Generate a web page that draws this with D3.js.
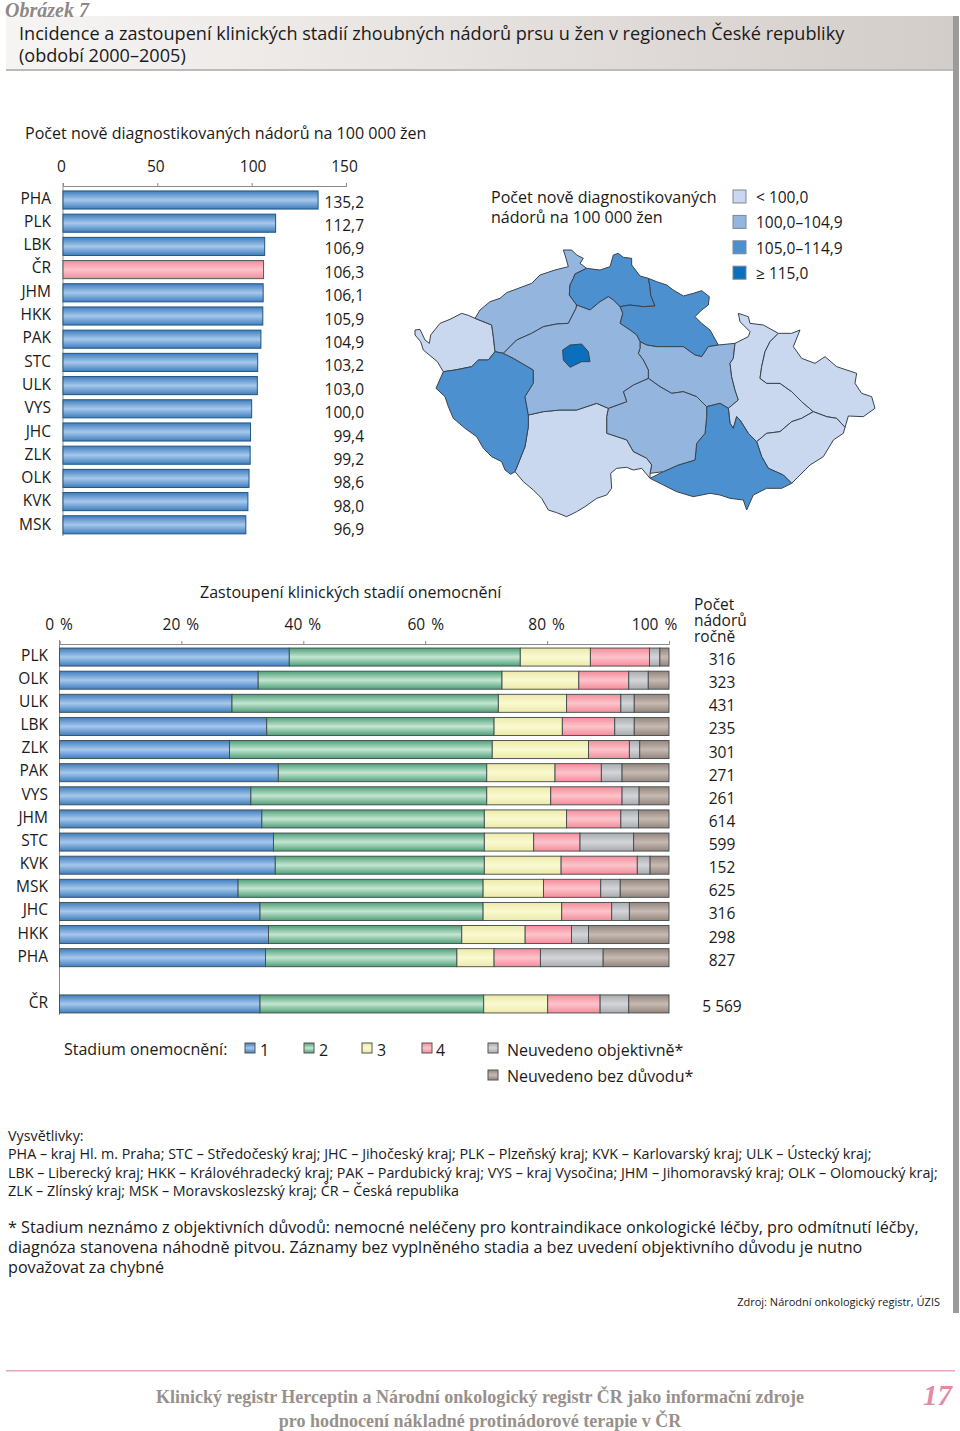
<!DOCTYPE html>
<html>
<head>
<meta charset="utf-8">
<script src="https://cdn.jsdelivr.net/npm/d3@7"></script>
<style>
body { margin: 0; background: #fff; }
text { font-family: "Open Sans", sans-serif; fill: #1a1a1a; }
.domain { stroke: #8a8a8a; }
</style>
</head>
<body>
<div id="chart"></div>
<script>
// incidence per 100 000
var incCats = ["PHA","PLK","LBK","ČR","JHM","HKK","PAK","STC","ULK","VYS","JHC","ZLK","OLK","KVK","MSK"];
var incVals = [135.2,112.7,106.9,106.3,106.1,105.9,104.9,103.2,103.0,100.0,99.4,99.2,98.6,98.0,96.9];

// stages
var stageCats = ["PLK","OLK","ULK","LBK","ZLK","PAK","VYS","JHM","STC","KVK","MSK","JHC","HKK","PHA","","ČR"];
var stage1 = [37.7,32.6,28.3,34.0,27.9,35.9,31.4,33.2,35.1,35.4,29.3,32.9,34.3,33.8,0,32.9];
var stage2 = [37.9,40.0,43.7,37.3,43.1,34.2,38.7,36.5,34.6,34.3,40.2,36.6,31.7,31.4,0,36.7];
var stage3 = [11.5,12.6,11.2,11.2,15.8,11.2,10.5,13.5,8.1,12.6,9.9,12.9,10.4,6.1,0,10.5];
var stage4 = [9.7,8.2,8.9,8.6,6.7,7.6,11.7,8.9,7.6,12.5,9.4,8.2,7.6,7.6,0,8.6];
var stageObj = [1.7,3.2,2.2,3.2,1.7,3.4,2.8,2.9,8.8,2.1,3.2,2.9,2.8,10.3,0,4.7];
var stageNone = [1.5,3.4,5.7,5.7,4.8,7.7,4.9,5.0,5.8,3.1,8.0,6.5,13.2,10.8,0,6.6];
var counts = ["316","323","431","235","301","271","261","614","599","152","625","316","298","827","","5 569"];

var incTicks = [0,50,100,150];
var stageTicks = [0,20,40,60,80,100];
var stageNames = ["1","2","3","4","Neuvedeno objektivně*","Neuvedeno bez důvodu*"];
var mapBreaks = [100,105,115];
var mapLabels = ["< 100,0","100,0–104,9","105,0–114,9","≥ 115,0"];
var mapColors = ["#c9d8ef","#94b5de","#4d90d0","#0b6fbd"];

// region outlines
var regionShapes = {
  KVK: [[45,480],[60,478],[75,510],[88,520],[92,495],[120,460],[150,448],[185,430],[205,436],[225,445],[275,465],[280,500],[285,545],[265,570],[235,570],[215,590],[165,600],[130,605],[112,575],[70,540],[62,515],[45,495]],
  ULK: [[225,445],[240,420],[270,395],[300,385],[320,368],[355,355],[395,340],[420,315],[465,300],[505,290],[495,255],[490,240],[515,240],[530,255],[550,265],[540,280],[560,295],[525,312],[520,325],[510,345],[508,375],[530,405],[528,415],[505,460],[470,462],[430,470],[395,490],[350,510],[330,530],[310,550],[285,545],[280,500],[275,465]],
  LBK: [[525,312],[560,295],[600,300],[630,290],[640,255],[655,250],[670,262],[695,265],[695,285],[720,318],[745,325],[750,350],[752,375],[765,408],[730,410],[690,405],[660,410],[640,390],[625,380],[600,395],[570,420],[530,405],[508,375],[510,345],[520,325]],
  HKK: [[745,325],[770,335],[800,345],[820,360],[850,378],[880,370],[905,362],[928,380],[925,405],[905,420],[885,440],[905,460],[930,480],[955,525],[925,530],[905,560],[885,555],[850,530],[810,530],[770,530],[740,525],[720,515],[710,495],[690,480],[660,460],[668,430],[660,410],[690,405],[730,410],[765,408],[752,375],[750,350]],
  PAK: [[720,535],[720,515],[740,525],[770,530],[810,530],[850,530],[885,555],[905,560],[925,530],[955,525],[1005,520],[1000,565],[990,580],[995,620],[1005,660],[1015,690],[985,715],[960,700],[920,710],[890,680],[850,665],[815,670],[780,650],[745,625],[745,600],[730,570],[715,550]],
  OLK: [[1015,430],[1045,440],[1050,460],[1090,465],[1135,490],[1110,515],[1095,545],[1085,590],[1080,625],[1100,640],[1140,640],[1175,665],[1205,695],[1240,725],[1205,745],[1175,755],[1140,785],[1100,790],[1070,815],[1045,790],[1020,750],[1010,740],[1000,775],[990,760],[985,715],[1015,690],[1005,660],[995,620],[990,580],[1000,565],[1005,520],[1045,500],[1050,485],[1020,455]],
  MSK: [[1135,490],[1175,490],[1200,480],[1180,530],[1205,565],[1245,580],[1275,560],[1310,590],[1370,610],[1365,640],[1385,670],[1415,680],[1425,715],[1390,740],[1345,738],[1335,772],[1310,745],[1280,740],[1240,725],[1205,695],[1175,665],[1140,640],[1100,640],[1080,625],[1085,590],[1095,545],[1110,515]],
  ZLK: [[1240,725],[1280,740],[1310,745],[1335,772],[1330,790],[1300,810],[1270,860],[1230,885],[1200,915],[1175,940],[1150,915],[1105,895],[1085,860],[1070,815],[1100,790],[1140,785],[1175,755],[1205,745]],
  JHM: [[920,710],[960,700],[985,715],[990,760],[1000,775],[1010,740],[1020,750],[1045,790],[1070,815],[1085,860],[1105,895],[1150,915],[1175,940],[1145,955],[1100,955],[1060,975],[1040,1020],[1030,990],[990,985],[960,975],[930,970],[880,980],[830,965],[790,945],[750,925],[790,905],[835,885],[885,870],[890,820],[915,790],[920,740]],
  VYS: [[745,625],[780,650],[815,670],[850,665],[890,680],[920,710],[920,740],[915,790],[890,820],[885,870],[835,885],[790,905],[750,910],[755,885],[740,865],[700,845],[680,810],[620,790],[620,740],[625,715],[680,695],[670,665],[700,645]],
  JHC: [[385,735],[430,725],[480,720],[530,720],[590,700],[625,715],[620,740],[620,790],[680,810],[700,845],[740,865],[755,885],[750,910],[750,925],[725,895],[700,900],[680,892],[650,895],[632,910],[635,955],[620,975],[590,985],[555,1010],[530,1025],[500,1040],[470,1028],[445,1020],[425,985],[400,960],[370,935],[345,905],[375,830],[385,770]],
  PLK: [[310,550],[340,565],[400,600],[400,640],[375,680],[385,735],[385,770],[375,830],[345,905],[332,913],[315,900],[305,875],[275,860],[250,835],[230,800],[195,775],[160,745],[145,710],[135,680],[108,655],[130,605],[165,600],[215,590],[235,570],[265,570],[285,545]],
  STC: [[310,550],[330,530],[350,510],[395,490],[430,470],[470,462],[505,460],[528,415],[530,405],[570,420],[600,395],[625,380],[640,390],[660,410],[668,430],[660,460],[690,480],[710,495],[720,515],[720,535],[715,550],[730,570],[745,600],[745,625],[700,645],[670,665],[680,695],[625,715],[590,700],[530,720],[480,720],[430,725],[385,735],[375,680],[400,640],[400,600],[340,565]],
  PHA: [[488,540],[510,525],[545,522],[565,545],[570,575],[545,575],[510,592],[490,570]]
};
var regionOrder = ["KVK","ULK","LBK","HKK","PAK","OLK","MSK","ZLK","JHM","VYS","JHC","PLK","STC","PHA"];

var comma = function(v){ return v.toFixed(1).replace(".", ","); };

var svg = d3.select("#chart").append("svg")
  .attr("width", 960)
  .attr("height", 1431)
  .style("display", "block");

var defs = svg.append("defs");
function addGrad(id, edge, mid){
  var g = defs.append("linearGradient").attr("id", id).attr("x1",0).attr("y1",0).attr("x2",0).attr("y2",1);
  g.append("stop").attr("offset","0%").attr("stop-color",edge);
  g.append("stop").attr("offset","50%").attr("stop-color",mid);
  g.append("stop").attr("offset","100%").attr("stop-color",edge);
}
addGrad("gBlue","#3f7dbd","#a6c8ec");
addGrad("gGreen","#4f9f78","#c4e6d2");
addGrad("gYellow","#ece9a8","#fafad2");
addGrad("gPink","#f58c9b","#fcc4cb");
addGrad("gGrey","#a9abaf","#d4d5d8");
addGrad("gBrown","#94857d","#c6bab2");
var stageFills = ["url(#gBlue)","url(#gGreen)","url(#gYellow)","url(#gPink)","url(#gGrey)","url(#gBrown)"];

var head = defs.append("linearGradient").attr("id","gHead");
head.append("stop").attr("offset","0%").attr("stop-color","#f7f5f4");
head.append("stop").attr("offset","100%").attr("stop-color","#d3cdc9");

// page furniture
svg.append("rect").attr("x",6).attr("y",16).attr("width",947).attr("height",54).attr("fill","url(#gHead)");
svg.append("rect").attr("x",6).attr("y",69).attr("width",947).attr("height",2).attr("fill","#bdbab7");
svg.append("rect").attr("x",953).attr("y",16).attr("width",6).attr("height",1297).attr("fill","#9b9b9b");
svg.append("text").text("Obrázek 7").attr("x",5).attr("y",17)
  .style("font-family","'Liberation Serif', serif").style("font-style","italic").style("font-weight","bold")
  .style("font-size","20px").style("fill","#8f8884");
svg.append("text").text("Incidence a zastoupení klinických stadií zhoubných nádorů prsu u žen v regionech České republiky")
  .attr("x",19).attr("y",40).style("font-size","18.1px");
svg.append("text").text("(období 2000–2005)").attr("x",19).attr("y",62).style("font-size","18.1px");

svg.append("text").text("Počet nově diagnostikovaných nádorů na 100 000 žen")
  .attr("x",25).attr("y",139).style("font-size","16.07px");

// top bars
var x1 = d3.scaleLinear().domain([0,150]).range([63,346]);
var y1 = d3.scaleBand().domain(incCats).range([188.4,536.4]).paddingInner(0.22).paddingOuter(0.11);
var y1Label = d3.scalePoint().domain(incCats).range([203.5,529.8]);
var y1Value = d3.scalePoint().domain(incCats).range([207.5,535.3]);
var incTickShift = [-2,-2,1,-2];

svg.append("g").attr("transform","translate(0,186)")
  .call(d3.axisTop(x1).tickValues(incTicks).tickSize(3).tickPadding(11))
  .call(function(g){ g.selectAll(".tick line").attr("stroke","#8a8a8a"); })
  .selectAll("text").style("font-size","15.5px").attr("dx",function(d,i){ return incTickShift[i]; });

svg.append("line").attr("x1",63).attr("x2",63).attr("y1",183).attr("y2",536).attr("stroke","#8a8a8a");

svg.append("g").selectAll("rect").data(incCats).enter().append("rect")
  .attr("x", x1(0))
  .attr("y", function(d){ return y1(d); })
  .attr("height", y1.bandwidth())
  .attr("width", function(d,i){ return x1(incVals[i]) - x1(0); })
  .attr("fill", function(d){ return d == "ČR" ? "url(#gPink)" : "url(#gBlue)"; })
  .attr("stroke", function(d){ return d == "ČR" ? "#4d5a66" : "#1f5680"; })
  .attr("stroke-width", 1);

svg.append("g").selectAll("text").data(incCats).enter().append("text")
  .text(function(d){ return d; })
  .attr("x", 51)
  .attr("y", function(d){ return y1Label(d); })
  .attr("text-anchor","end")
  .style("font-size","15.5px");

svg.append("g").selectAll("text").data(incVals).enter().append("text")
  .text(comma)
  .attr("x", 364)
  .attr("y", function(d,i){ return y1Value(incCats[i]); })
  .attr("text-anchor","end")
  .style("font-size","15.5px");

// map
var mapColor = d3.scaleThreshold().domain(mapBreaks).range(mapColors);
var mapProj = d3.geoIdentity().scale(1/3).translate([400,170]);
var mapPath = d3.geoPath(mapProj);
var regionFeatures = regionOrder.map(function(r){
  var ring = regionShapes[r].concat([regionShapes[r][0]]);
  return {type:"Feature", id:r, geometry:{type:"Polygon", coordinates:[ring]}};
});
svg.append("g").selectAll("path").data(regionFeatures).enter().append("path")
  .attr("d", mapPath)
  .attr("fill", function(d){ return mapColor(incVals[incCats.indexOf(d.id)]); })
  .attr("stroke","#39434f")
  .attr("stroke-width",1)
  .attr("stroke-linejoin","round");

svg.append("text").text("Počet nově diagnostikovaných").attr("x",491).attr("y",203).style("font-size","16.07px");
svg.append("text").text("nádorů na 100 000 žen").attr("x",491).attr("y",223).style("font-size","16.07px");

var mapLegend = svg.append("g").selectAll("g").data(mapLabels).enter().append("g")
  .attr("transform", function(d,i){ return "translate(733," + (190 + i*25.4) + ")"; });
mapLegend.append("rect").attr("width",13).attr("height",13)
  .attr("fill", function(d,i){ return mapColors[i]; }).attr("stroke","#7f8790");
mapLegend.append("text").text(function(d){ return d; }).attr("x",23).attr("y",13).style("font-size","15.5px");

// stacked bars
var x2 = d3.scaleLinear().domain([0,100]).range([59.5,669]);
var y2 = d3.scaleBand().domain(stageCats).range([645.5,1015.5]).paddingInner(0.22).paddingOuter(0.11);
var stacked = stageCats.map(function(c,i){
  return {cat:c, "0":stage1[i], "1":stage2[i], "2":stage3[i], "3":stage4[i], "4":stageObj[i], "5":stageNone[i]};
});
var series = d3.stack().keys(["0","1","2","3","4","5"])(stacked);
var stageTickShift = [-1,-1,-1,0,-1,-15];

svg.append("text").text("Zastoupení klinických stadií onemocnění").attr("x",200).attr("y",598).style("font-size","16.03px");

svg.append("g").attr("transform","translate(0,644)")
  .call(d3.axisTop(x2).tickValues(stageTicks).tickSize(3).tickPadding(11).tickFormat(function(d){ return d + " %"; }))
  .call(function(g){ g.selectAll(".tick line").attr("stroke","#8a8a8a"); })
  .selectAll("text").style("font-size","15.5px").style("word-spacing","2px")
  .attr("dx",function(d,i){ return stageTickShift[i]; });

svg.append("line").attr("x1",59.5).attr("x2",59.5).attr("y1",640).attr("y2",1015).attr("stroke","#8a8a8a");

svg.append("g").selectAll("g").data(series).enter().append("g")
  .attr("fill", function(d,i){ return stageFills[i]; })
  .selectAll("rect").data(function(d){ return d.filter(function(e){ return e.data.cat != ""; }); })
  .enter().append("rect")
  .attr("x", function(d){ return x2(d[0]); })
  .attr("y", function(d){ return y2(d.data.cat); })
  .attr("width", function(d){ return x2(d[1]) - x2(d[0]); })
  .attr("height", y2.bandwidth())
  .attr("stroke","#3f4a4a")
  .attr("stroke-width",0.9);

var y2Label = d3.scalePoint().domain(stageCats).range([660.5,1008]);
svg.append("g").selectAll("text").data(stageCats).enter().append("text")
  .text(function(d){ return d; })
  .attr("x", 48)
  .attr("y", function(d){ return y2Label(d); })
  .attr("text-anchor","end")
  .style("font-size","15.5px");

svg.append("g").selectAll("text").data(counts).enter().append("text")
  .text(function(d){ return d; })
  .attr("x", 722)
  .attr("y", function(d,i){ return y2(stageCats[i]) + y2.bandwidth()/2 + 8; })
  .attr("text-anchor","middle")
  .style("font-size","15.5px");

["Počet","nádorů","ročně"].forEach(function(t,i){
  svg.append("text").text(t).attr("x",694).attr("y",610 + i*16.2).style("font-size","15.5px");
});

// stage legend
svg.append("text").text("Stadium onemocnění:").attr("x",64).attr("y",1055).style("font-size","16px");
var legX = [245,304,362,422,488,488];
var legY = [1043,1043,1043,1043,1043,1070];
var legTextX = [15,15,15,14,19,19];
var legTextY = [13,13,13,13,13,12];
var stageLeg = svg.append("g").selectAll("g").data(stageNames).enter().append("g")
  .attr("transform", function(d,i){ return "translate(" + legX[i] + "," + legY[i] + ")"; });
stageLeg.append("rect").attr("width",10).attr("height",10)
  .attr("fill", function(d,i){ return stageFills[i]; }).attr("stroke","#555");
stageLeg.append("text").text(function(d){ return d; })
  .attr("x", function(d,i){ return legTextX[i]; })
  .attr("y", function(d,i){ return legTextY[i]; })
  .style("font-size","16px");

// notes
var notesA = ["Vysvětlivky:",
  "PHA – kraj Hl. m. Praha; STC – Středočeský kraj; JHC – Jihočeský kraj; PLK – Plzeňský kraj; KVK – Karlovarský kraj; ULK – Ústecký kraj;",
  "LBK – Liberecký kraj; HKK – Královéhradecký kraj; PAK – Pardubický kraj; VYS – kraj Vysočina; JHM – Jihomoravský kraj; OLK – Olomoucký kraj;",
  "ZLK – Zlínský kraj; MSK – Moravskoslezský kraj; ČR – Česká republika"];
notesA.forEach(function(t,i){
  svg.append("text").text(t).attr("x",8).attr("y",1141 + i*18.4).style("font-size","14.3px");
});
var notesB = ["* Stadium neznámo z objektivních důvodů: nemocné neléčeny pro kontraindikace onkologické léčby, pro odmítnutí léčby,",
  "diagnóza stanovena náhodně pitvou. Záznamy bez vyplněného stadia a bez uvedení objektivního důvodu je nutno",
  "považovat za chybné"];
notesB.forEach(function(t,i){
  svg.append("text").text(t).attr("x",8).attr("y",1233 + i*20).style("font-size","16.15px");
});
svg.append("text").text("Zdroj: Národní onkologický registr, ÚZIS").attr("x",940).attr("y",1306)
  .attr("text-anchor","end").style("font-size","11px");

// footer
svg.append("rect").attr("x",6).attr("y",1370).attr("width",949).attr("height",1.5).attr("fill","#e9a5b5");
[["Klinický registr Herceptin a Národní onkologický registr ČR jako informační zdroje",1403],
 ["pro hodnocení nákladné protinádorové terapie v ČR",1427]].forEach(function(f){
  svg.append("text").text(f[0]).attr("x",480).attr("y",f[1]).attr("text-anchor","middle")
    .style("font-family","'Liberation Serif', serif").style("font-weight","bold")
    .style("font-size","18.03px").style("fill","#98908b");
});
svg.append("text").text("17").attr("x",952).attr("y",1405).attr("text-anchor","end")
  .style("font-family","'Liberation Serif', serif").style("font-style","italic").style("font-weight","bold")
  .style("font-size","29px").style("fill","#e58aa5");
</script>
</body>
</html>
